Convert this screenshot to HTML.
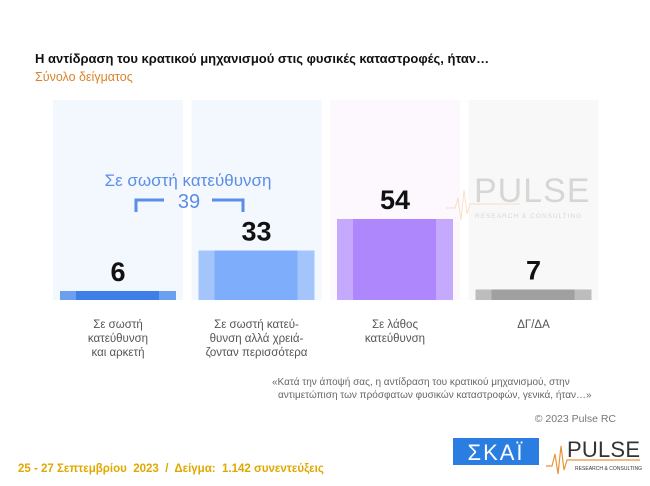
<!DOCTYPE html>
<html><head><meta charset="utf-8">
<style>
body{margin:0;width:650px;height:486px;background:#fff;overflow:hidden;font-family:"Liberation Sans","DejaVu Sans",sans-serif}
svg{display:block}
</style></head><body>
<svg width="650" height="486" viewBox="0 0 650 486">
<text x="35" y="63" font-size="13" font-weight="bold" fill="#111">Η αντίδραση του κρατικού μηχανισμού στις φυσικές καταστροφές, ήταν…</text>
<text x="35" y="81" font-size="12.5" fill="#d9822b">Σύνολο δείγματος</text>
<g id="cols"></g>
<g opacity="0.55">
<polyline points="446,208 455,208 458,198 461,220 464,190 467,214 470,204 520,204" fill="none" stroke="#f5c89a" stroke-width="1"/>
<text x="474" y="202" font-size="34" fill="#bbb" letter-spacing="1">PULSE</text>
<text x="475" y="218" font-size="6.5" fill="#bbb" letter-spacing="1">RESEARCH &amp; CONSULTING</text>
</g>
<g fill="#5b8ee6">
<text x="188" y="186" font-size="17" text-anchor="middle">Σε σωστή κατεύθυνση</text>
<text x="189" y="208" font-size="20" text-anchor="middle">39</text>
<path d="M136,212 V200 H164 M212,200 H243 V212" fill="none" stroke="#5b8ee6" stroke-width="3"/>
</g>
<text x="272" y="385" font-size="10" fill="#666">«Κατά την άποψή σας, η αντίδραση του κρατικού μηχανισμού, στην</text>
<text x="278" y="398" font-size="10" fill="#666">αντιμετώπιση των πρόσφατων φυσικών καταστροφών, γενικά, ήταν…»</text>
<text x="616" y="422" font-size="10.5" fill="#777" text-anchor="end">© 2023 Pulse RC</text>
<text x="18" y="472" font-size="11.5" font-weight="bold" fill="#e0a800" xml:space="preserve">25 - 27 Σεπτεμβρίου  2023  /  Δείγμα:  1.142 συνεντεύξεις</text>
<g>
<rect x="453" y="438" width="86" height="27" fill="#2a7de1"/>
<text x="496" y="460" font-size="22" fill="#fff" text-anchor="middle" letter-spacing="2">ΣΚΑΪ</text>
</g>
<g>
<polyline points="546,466 552,466 555,454 558,474 561,446 564,470 567,460 640,460" fill="none" stroke="#e8953a" stroke-width="1.2"/>
<text x="567" y="457" font-size="22" fill="#333" textLength="73">PULSE</text>
<text x="575" y="470" font-size="5" fill="#333" textLength="67">RESEARCH &amp; CONSULTING</text>
</g>
</svg>
<script>
const categories=[["Σε σωστή","κατεύθυνση","και αρκετή"],["Σε σωστή κατεύ-","θυνση αλλά χρειά-","ζονταν περισσότερα"],["Σε λάθος","κατεύθυνση"],["ΔΓ/ΔΑ"]];
const values=[6,33,54,7];
const bgColors=["#f3f7fe","#f3f7fe","#fcf8fe","#f8f8f8"];
const barColors=["#3d7ee8","#7eaefb","#ad87fb","#a0a0a0"];
const edgeColors=["#6d9ff0","#a3c5fc","#c5a9fc","#bdbdbd"];
const ns="http://www.w3.org/2000/svg";
const g=document.getElementById('cols');
const baseY=300,scale=1.5;
function yv(v){return baseY-v*scale;}
function colX(i){return 53+i*138.5;}
function mk(t,a){const e=document.createElementNS(ns,t);for(const k in a)e.setAttribute(k,a[k]);g.appendChild(e);return e;}
values.forEach((v,i)=>{
const x=colX(i);
const bg=mk('rect',{x:x,y:100,width:130,height:200,fill:bgColors[i]});


const b=mk('rect',{x:x+7,y:yv(v),width:116,height:v*scale,fill:edgeColors[i]});


const c=mk('rect',{x:x+23,y:yv(v),width:83,height:v*scale,fill:barColors[i]});


const t=mk('text',{x:x+65,y:yv(v)-10,'font-size':27,'font-weight':'bold','text-anchor':'middle',fill:'#111','font-family':'"Liberation Sans Narrow","Liberation Sans",sans-serif'});
t.textContent=v;


categories[i].forEach((ln,j)=>{
const l=mk('text',{x:x+65,y:328+j*14,'font-size':11.5,'text-anchor':'middle',fill:'#555'});
l.textContent=ln;


});
});
</script>
</body></html>
